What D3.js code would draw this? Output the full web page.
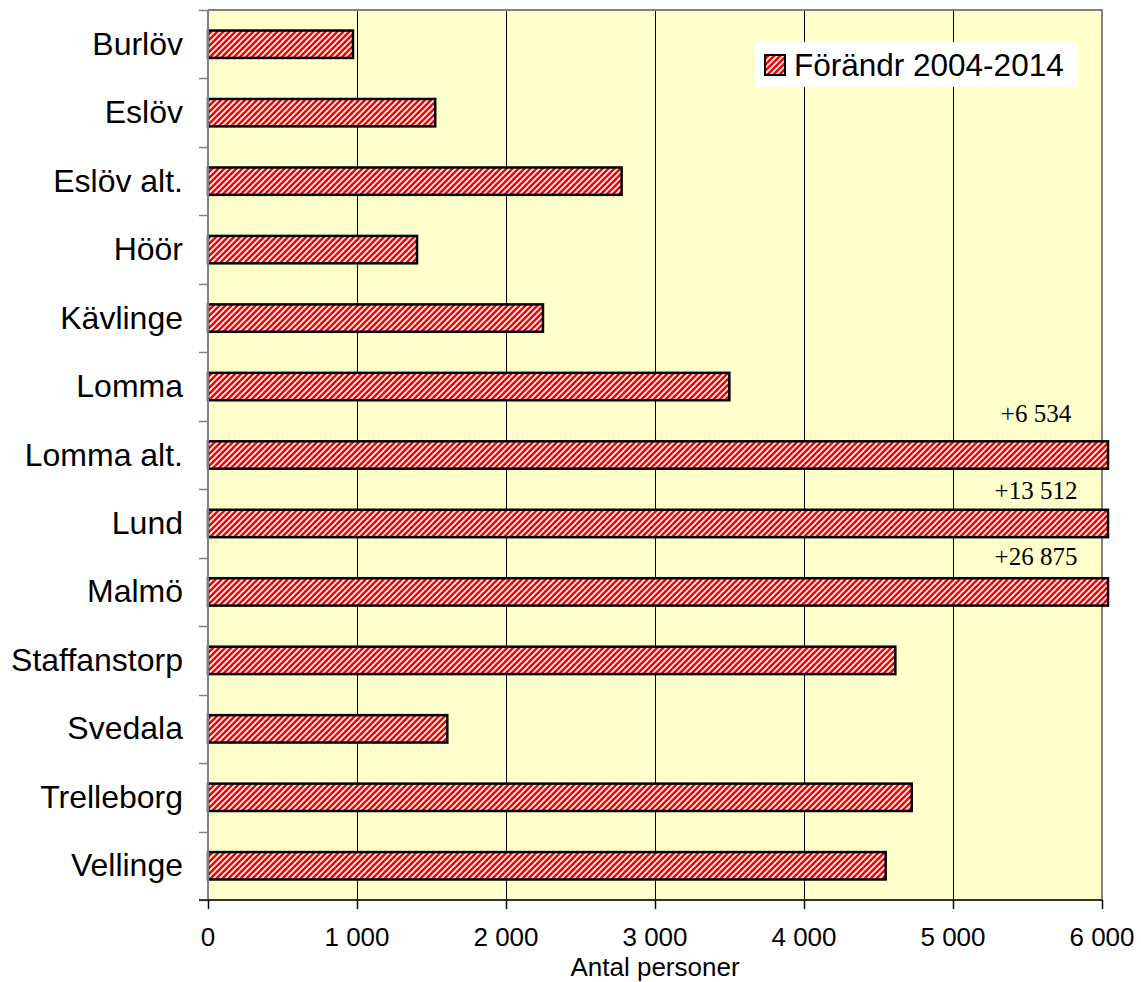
<!DOCTYPE html>
<html>
<head>
<meta charset="utf-8">
<script src="https://cdn.jsdelivr.net/npm/d3@7"></script>
<style>
  body { margin: 0; background: #fff; }
  text { font-family: "Liberation Sans", Arial, sans-serif; fill: #000; }
  .note { font-family: "Liberation Serif", "Times New Roman", serif; }
</style>
</head>
<body>
<div id="chart"></div>
<script>
// kommuner, uppifrån och ned
const categories = ['Burlöv', 'Eslöv', 'Eslöv alt.', 'Höör', 'Kävlinge', 'Lomma', 'Lomma alt.',
    'Lund', 'Malmö', 'Staffanstorp', 'Svedala', 'Trelleborg', 'Vellinge'];
// förändring 2004-2014, antal personer
const change = [973, 1525, 2776, 1403, 2248, 3499, 6534, 13512, 26875, 4613, 1606, 4723, 4548];
const xTicks = [0, 1000, 2000, 3000, 4000, 5000, 6000];
const seriesName = 'Förändr 2004-2014';
const axisTitle = 'Antal personer';

const width = 1141, height = 982;
const margin = {top: 10, right: 39, bottom: 82, left: 208};
const xMax = 6000;
// small vertical nudges for the "+..." notes, px relative to band centre
const noteShift = {'Lomma alt.': -33, 'Lund': -24, 'Malmö': -27};

const loc = d3.formatLocale({decimal: ',', thousands: '\u00a0', grouping: [3], currency: ['', '']});
const fmt = loc.format(',d');
const px = v => Math.round(v) + 0.5;

const svg = d3.select('#chart').append('svg')
    .attr('width', width)
    .attr('height', height);

const defs = svg.append('defs');
const pat = defs.append('pattern')
    .attr('id', 'hatch')
    .attr('patternUnits', 'userSpaceOnUse')
    .attr('width', 6)
    .attr('height', 6);
pat.append('rect').attr('width', 6).attr('height', 6).attr('fill', '#ff0000');
pat.append('path')
    .attr('d', 'M-1,1 l2,-2 M0,6 l6,-6 M5,7 l2,-2')
    .attr('stroke', '#ffffff')
    .attr('stroke-width', 1.6);

const x = d3.scaleLinear()
    .domain([0, xMax])
    .range([margin.left, width - margin.right]);

const y = d3.scaleBand()
    .domain(categories)
    .range([margin.top, height - margin.bottom])
    .paddingInner(0.6)
    .paddingOuter(0.3);

const plotTop = margin.top, plotBottom = height - margin.bottom;

// plot background
svg.append('rect')
    .attr('x', x(0))
    .attr('y', plotTop)
    .attr('width', x(xMax) - x(0))
    .attr('height', plotBottom - plotTop)
    .attr('fill', '#ffffcc');

// vertical gridlines
svg.append('g')
    .selectAll('line')
    .data(xTicks.slice(1, -1))
    .join('line')
    .attr('x1', d => px(x(d))).attr('x2', d => px(x(d)))
    .attr('y1', plotTop).attr('y2', plotBottom)
    .attr('stroke', '#000')
    .attr('stroke-width', 1);

// frame: top and right in gray
svg.append('path')
    .attr('d', `M${x(0)},${plotTop}H${x(xMax)}V${plotBottom}`)
    .attr('fill', 'none')
    .attr('stroke', '#808080')
    .attr('stroke-width', 2);

// bars
const barEnd = v => v > xMax ? x(xMax) + 6 : x(v);
svg.append('g')
    .selectAll('rect')
    .data(categories)
    .join('rect')
    .attr('x', x(0))
    .attr('y', d => y(d))
    .attr('width', (d, i) => barEnd(change[i]) - x(0))
    .attr('height', y.bandwidth())
    .attr('fill', 'url(#hatch)')
    .attr('stroke', '#000')
    .attr('stroke-width', 2.5);

// notes for bars outside the scale
svg.append('g')
    .selectAll('text')
    .data(categories.filter((d, i) => change[i] > xMax))
    .join('text')
    .attr('class', 'note')
    .attr('x', x(xMax) - 66)
    .attr('y', d => y(d) + y.bandwidth() / 2 + (noteShift[d] || -27))
    .attr('text-anchor', 'middle')
    .style('font-size', '25px')
    .text(d => '+' + fmt(change[categories.indexOf(d)]));

// y axis
const yAxis = svg.append('g');
yAxis.append('line')
    .attr('x1', x(0)).attr('x2', x(0))
    .attr('y1', plotTop).attr('y2', plotBottom)
    .attr('stroke', '#808080')
    .attr('stroke-width', 2);
const step = y.step();
const bounds = categories.map(c => y(c) + y.bandwidth() / 2 - step / 2)
    .concat([y(categories[categories.length - 1]) + y.bandwidth() / 2 + step / 2]);
yAxis.selectAll('line.tick')
    .data(bounds)
    .join('line')
    .attr('class', 'tick')
    .attr('x1', x(0) - 9).attr('x2', x(0))
    .attr('y1', d => px(d)).attr('y2', d => px(d))
    .attr('stroke', '#808080')
    .attr('stroke-width', 1.5);
yAxis.selectAll('text')
    .data(categories)
    .join('text')
    .attr('x', 183)
    .attr('y', d => y(d) + y.bandwidth() / 2 + 10.5)
    .attr('text-anchor', 'end')
    .style('font-size', '32px')
    .text(d => d);

// x axis
const xAxis = svg.append('g');
xAxis.append('line')
    .attr('x1', x(0) - 9).attr('x2', x(xMax))
    .attr('y1', plotBottom).attr('y2', plotBottom)
    .attr('stroke', '#333')
    .attr('stroke-width', 2);
xAxis.selectAll('line.tick')
    .data(xTicks)
    .join('line')
    .attr('class', 'tick')
    .attr('x1', d => px(x(d))).attr('x2', d => px(x(d)))
    .attr('y1', plotBottom).attr('y2', plotBottom + 9)
    .attr('stroke', '#000')
    .attr('stroke-width', 1.5);
xAxis.selectAll('text')
    .data(xTicks)
    .join('text')
    .attr('x', d => x(d))
    .attr('y', plotBottom + 46)
    .attr('text-anchor', 'middle')
    .style('font-size', '26px')
    .text(d => fmt(d));

svg.append('text')
    .attr('x', (x(0) + x(xMax)) / 2)
    .attr('y', 976)
    .attr('text-anchor', 'middle')
    .style('font-size', '26px')
    .text(axisTitle);

// legend
const legend = svg.append('g').attr('transform', 'translate(755,42)');
legend.append('rect')
    .attr('width', 323)
    .attr('height', 45)
    .attr('fill', '#fff');
legend.append('rect')
    .attr('x', 10).attr('y', 13)
    .attr('width', 20).attr('height', 20)
    .attr('fill', 'url(#hatch)')
    .attr('stroke', '#000')
    .attr('stroke-width', 2);
legend.append('text')
    .attr('x', 39)
    .attr('y', 34)
    .style('font-size', '31.5px')
    .text(seriesName);
</script>
</body>
</html>
